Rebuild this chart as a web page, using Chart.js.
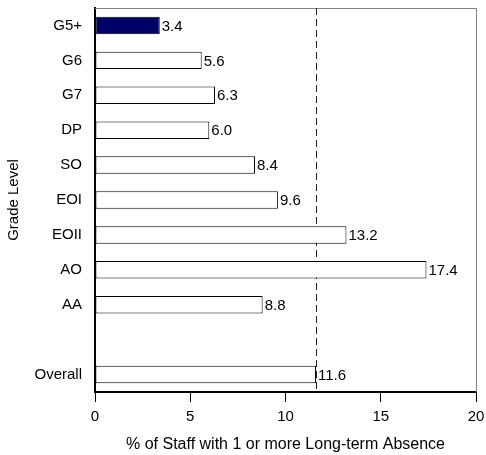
<!DOCTYPE html>
<html><head><meta charset="utf-8">
<script src="https://cdn.jsdelivr.net/npm/chart.js@4/dist/chart.umd.min.js"></script>
<style>html,body{margin:0;padding:0;background:#fff}#wrap{width:486px;height:455px}</style>
</head><body><div id="wrap"><canvas id="c" width="486" height="455"></canvas></div>
<script>
const categories = ['G5+','G6','G7','DP','SO','EOI','EOII','AO','AA','','Overall'];
const values = [3.4,5.6,6.3,6.0,8.4,9.6,13.2,17.4,8.8,null,11.6];
const valueLabels = ['3.4','5.6','6.3','6.0','8.4','9.6','13.2','17.4','8.8','','11.6'];
const referenceValue = 11.6;
const xTicks = [0,5,10,15,20];
const FONT = "'Liberation Sans', Arial, sans-serif";
const FS = 15;

const fills = categories.map((c,i)=> i===0 ? '#000066' : '#ffffff');

const framePlugin = {
  id:'frame',
  beforeDatasetsDraw(chart){
    const {ctx, chartArea:a, scales} = chart;
    ctx.save();
    ctx.strokeStyle = '#808080'; ctx.lineWidth = 1;
    ctx.beginPath();
    ctx.moveTo(a.left, a.top+0.5); ctx.lineTo(a.right+0.5, a.top+0.5); ctx.lineTo(a.right+0.5, a.bottom);
    ctx.stroke();
    const x = Math.round(scales.x.getPixelForValue(referenceValue))+0.5;
    ctx.strokeStyle = '#222'; ctx.setLineDash([7,4]);
    ctx.beginPath(); ctx.moveTo(x, a.top); ctx.lineTo(x, a.bottom); ctx.stroke();
    ctx.restore();
  },
  afterDatasetsDraw(chart){
    const {ctx} = chart;
    const meta = chart.getDatasetMeta(0);
    ctx.save();
    ctx.font = FS + 'px ' + FONT; ctx.fillStyle = '#000';
    ctx.textAlign = 'left'; ctx.textBaseline = 'middle';
    meta.data.forEach((bar,i)=>{
      if(values[i]===null) return;
      ctx.fillText(valueLabels[i], bar.x+2, bar.y+1);
    });
    ctx.restore();
  }
};

new Chart(document.getElementById('c'), {
  type:'bar',
  data:{labels:categories, datasets:[{data:values, backgroundColor:fills, borderColor:'#000', borderWidth:1, borderSkipped:false, barPercentage:0.5, categoryPercentage:1.0}]},
  options:{
    indexAxis:'y', responsive:false, animation:false,
    layout:{padding:{top:8,right:10,left:0,bottom:0}},
    plugins:{legend:{display:false}, tooltip:{enabled:false}},
    scales:{
      x:{min:0,max:20,
        afterBuildTicks(s){s.ticks = xTicks.map(v=>({value:v}));},
        afterFit(s){s.height = 63; s.paddingLeft = 0; s.paddingRight = 0;},
        grid:{display:true, drawOnChartArea:false, drawTicks:true, tickLength:10, color:'#000', lineWidth:1},
        border:{display:true,color:'#000',width:2},
        ticks:{color:'#000', font:{family:FONT,size:FS}, padding:6},
        title:{display:true, text:'% of Staff with 1 or more Long-term Absence', color:'#000', font:{family:FONT,size:16}, padding:{top:6,bottom:1}}
      },
      y:{
        afterFit(s){s.width = 95; s.paddingTop = 0; s.paddingBottom = 0;},
        grid:{display:false, drawTicks:false},
        border:{display:true,color:'#000',width:2},
        ticks:{color:'#000', font:{family:FONT,size:FS}, padding:13},
        title:{display:true, text:'Grade Level', color:'#000', font:{family:FONT,size:FS}, padding:{top:5,bottom:0}}
      }
    }
  },
  plugins:[framePlugin]
});
</script></body></html>
